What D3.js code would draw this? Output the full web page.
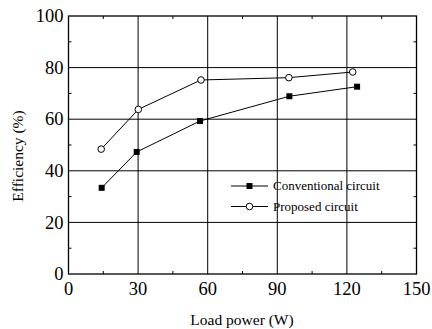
<!DOCTYPE html>
<html>
<head>
<meta charset="utf-8">
<script src="https://cdn.jsdelivr.net/npm/d3@7"></script>
<style>
  body { margin: 0; background: #fff; }
</style>
</head>
<body>
<svg width="432" height="329"></svg>
<script>
// data
const convPower = [14.3, 29.4, 56.7, 95.2, 124.4];
const propPower = [14.1, 30.1, 57.1, 95.0, 122.5];
const conventionalEff = [33.4, 47.3, 59.3, 68.9, 72.6];
const proposedEff = [48.4, 63.8, 75.2, 76.1, 78.3];
const seriesNames = ['Conventional circuit', 'Proposed circuit'];
const xTicks = [0, 30, 60, 90, 120, 150];
const yTicks = [0, 20, 40, 60, 80, 100];

const svg = d3.select('svg');
const plotLeft = 68.5, plotRight = 416.5, plotTop = 16, plotBottom = 274;
const serif = 'Liberation Serif';

const x = d3.scaleLinear().domain([0, 150]).range([plotLeft, plotRight]);
const y = d3.scaleLinear().domain([0, 100]).range([plotBottom, plotTop]);

// grid lines at major ticks
svg.append('g').selectAll('line')
    .data(xTicks.slice(1, -1))
    .enter().append('line')
    .attr('x1', d => x(d)).attr('x2', d => x(d))
    .attr('y1', plotTop).attr('y2', plotBottom)
    .attr('stroke', '#000').attr('stroke-width', 1);
svg.append('g').selectAll('line')
    .data(yTicks.slice(1, -1))
    .enter().append('line')
    .attr('y1', d => y(d)).attr('y2', d => y(d))
    .attr('x1', plotLeft).attr('x2', plotRight)
    .attr('stroke', '#000').attr('stroke-width', 1);

// minor ticks pointing inwards on all four sides
const minorX = d3.range(15, 150, 30);
const minorY = d3.range(10, 100, 20);
const tickG = svg.append('g').attr('stroke', '#000').attr('stroke-width', 1);
minorX.forEach(v => {
    tickG.append('line').attr('x1', x(v)).attr('x2', x(v)).attr('y1', plotBottom).attr('y2', plotBottom - 3);
    tickG.append('line').attr('x1', x(v)).attr('x2', x(v)).attr('y1', plotTop).attr('y2', plotTop + 3);
});
minorY.forEach(v => {
    tickG.append('line').attr('y1', y(v)).attr('y2', y(v)).attr('x1', plotLeft).attr('x2', plotLeft + 3);
    tickG.append('line').attr('y1', y(v)).attr('y2', y(v)).attr('x1', plotRight).attr('x2', plotRight - 3);
});

// frame
svg.append('rect')
    .attr('x', plotLeft).attr('y', plotTop)
    .attr('width', plotRight - plotLeft).attr('height', plotBottom - plotTop)
    .attr('fill', 'none').attr('stroke', '#000').attr('stroke-width', 1.3);

// tick labels
svg.append('g').selectAll('text')
    .data(xTicks)
    .enter().append('text')
    .attr('x', d => x(d)).attr('y', plotBottom + 21)
    .attr('text-anchor', 'middle')
    .attr('font-family', serif)
    .attr('font-size', 18.5)
    .text(d => d);
svg.append('g').selectAll('text')
    .data(yTicks)
    .enter().append('text')
    .attr('x', plotLeft - 5).attr('y', d => y(d))
    .attr('dy', '0.33em')
    .attr('text-anchor', 'end')
    .attr('font-family', serif)
    .attr('font-size', 18.5)
    .text(d => d);

// axis titles
svg.append('text')
    .attr('x', 242).attr('y', 325)
    .attr('text-anchor', 'middle')
    .attr('font-family', serif)
    .attr('font-size', 15.5)
    .text('Load power (W)');
svg.append('text')
    .attr('transform', 'translate(23,156) rotate(-90)')
    .attr('text-anchor', 'middle')
    .attr('font-family', serif)
    .attr('font-size', 15.5)
    .text('Efficiency (%)');

// series
const line = d3.line().x(d => x(d[0])).y(d => y(d[1]));
const convData = d3.zip(convPower, conventionalEff);
const propData = d3.zip(propPower, proposedEff);

svg.append('path').datum(convData)
    .attr('d', line).attr('fill', 'none').attr('stroke', '#000').attr('stroke-width', 1);
svg.append('path').datum(propData)
    .attr('d', line).attr('fill', 'none').attr('stroke', '#000').attr('stroke-width', 1);

svg.append('g').selectAll('rect')
    .data(convData)
    .enter().append('rect')
    .attr('x', d => x(d[0]) - 3).attr('y', d => y(d[1]) - 3)
    .attr('width', 6).attr('height', 6)
    .attr('fill', '#000');
svg.append('g').selectAll('circle')
    .data(propData)
    .enter().append('circle')
    .attr('cx', d => x(d[0])).attr('cy', d => y(d[1]))
    .attr('r', 3.3)
    .attr('fill', '#fff').attr('stroke', '#000').attr('stroke-width', 1);

// legend
const legend = svg.append('g').attr('transform', 'translate(231,186)');
seriesNames.forEach((name, i) => {
    const row = legend.append('g').attr('transform', 'translate(0,' + (i * 20.5) + ')');
    row.append('line').attr('x1', 0).attr('x2', 37).attr('y1', 0).attr('y2', 0)
        .attr('stroke', '#000').attr('stroke-width', 1);
    if (i === 0) {
        row.append('rect').attr('x', 15.5).attr('y', -3).attr('width', 6).attr('height', 6).attr('fill', '#000');
    } else {
        row.append('circle').attr('cx', 18.5).attr('cy', 0).attr('r', 3.3)
            .attr('fill', '#fff').attr('stroke', '#000');
    }
    row.append('text').attr('x', 42).attr('y', 0).attr('dy', '0.33em')
        .attr('font-family', serif)
        .attr('font-size', 13)
        .text(name);
});
</script>
</body>
</html>
